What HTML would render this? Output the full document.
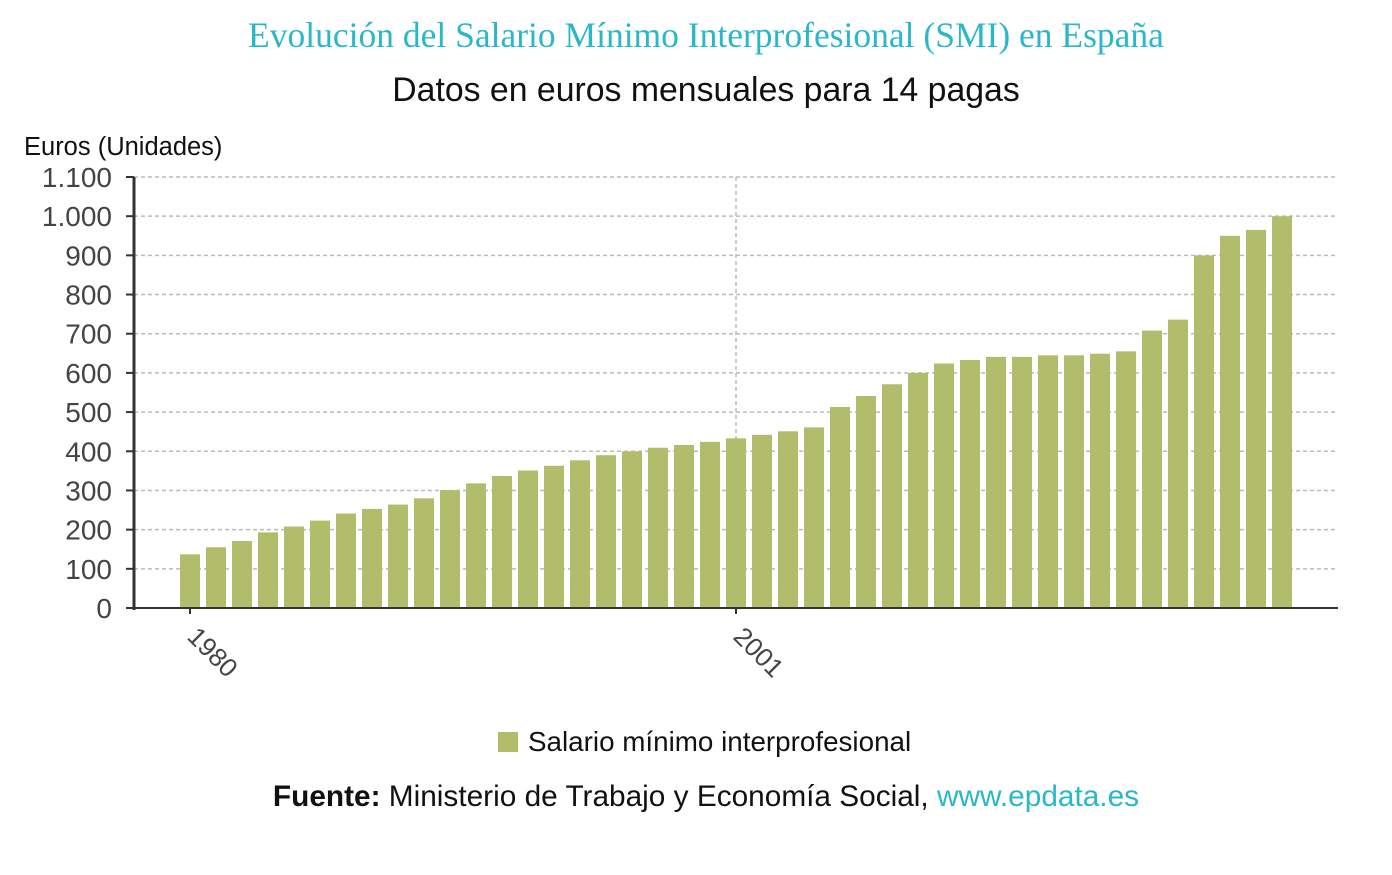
<!DOCTYPE html>
<html><head><meta charset="utf-8"><style>
body{margin:0;background:#fff;width:1392px;height:870px;overflow:hidden;font-family:"Liberation Sans",sans-serif}
</style></head><body>
<svg width="1392" height="870" id="svg">
<text x="706" y="47" text-anchor="middle" font-family="Liberation Serif" font-size="35.5" fill="#2ab8c9">Evolución del Salario Mínimo Interprofesional (SMI) en España</text>
<text x="706" y="101" text-anchor="middle" font-size="33.8" fill="#111">Datos en euros mensuales para 14 pagas</text>
<text x="24" y="155" font-size="25.5" fill="#111">Euros (Unidades)</text>
<g id="grid"></g><g id="bars"></g><g id="axes"></g>
<rect x="498" y="732" width="20" height="20" fill="#b1bd6b"/>
<text x="528" y="751" font-size="27.8" fill="#111">Salario mínimo interprofesional</text>
<text x="706" y="806" text-anchor="middle" font-size="29.8" fill="#111"><tspan font-weight="bold">Fuente:</tspan> Ministerio de Trabajo y Economía Social, <tspan fill="#2ab8c9">www.epdata.es</tspan></text>
</svg>
<script>
const years=[1980,1981,1982,1983,1984,1985,1986,1987,1988,1989,1990,1991,1992,1993,1994,1995,1996,1997,1998,1999,2000,2001,2002,2003,2004,2005,2006,2007,2008,2009,2010,2011,2012,2013,2014,2015,2016,2017,2018,2019,2020,2021,2022];
const values=[137,155,171,193,208,223,241,253,264,280,301,318,337,351,363,377,390,400,409,416,424,433,442,451,461,513,541,571,600,624,633,641,641,645,645,649,655,708,736,900,950,965,1000];
const yTicks=[0,100,200,300,400,500,600,700,800,900,1000,1100];
const yTickLabels=["0","100","200","300","400","500","600","700","800","900","1.000","1.100"];
const xLabelYears=[1980,2001];
const NS="http://www.w3.org/2000/svg";
const y0=608,yTop=177,x0=134,x1=1338;
const yS=v=>y0-(v/1100)*(y0-yTop);
const xS=yr=>190+(yr-1980)*26.0;
function mk(t,a,p){const e=document.createElementNS(NS,t);for(const k in a)e.setAttribute(k,a[k]);document.getElementById(p).appendChild(e);return e;}
yTicks.forEach((v,i)=>{
 if(v>0){const l=mk('line',{x1:x0,x2:x1,y1:yS(v),y2:yS(v),stroke:'#bbb','stroke-dasharray':'4,3','stroke-width':1.5},'grid');
 
 }
 const t=mk('text',{x:112,y:yS(v)+10,'text-anchor':'end','font-size':28,fill:'#444'},'axes');t.textContent=yTickLabels[i];
 
 
 mk('line',{x1:126,x2:134,y1:yS(v),y2:yS(v),stroke:'#333','stroke-width':2},'axes');
});
const vg=mk('line',{x1:xS(2001),x2:xS(2001),y1:yTop,y2:y0,stroke:'#bbb','stroke-dasharray':'4,3','stroke-width':1.5},'grid');


years.forEach((yr,i)=>{const r=mk('rect',{x:xS(yr)-10,y:yS(values[i]),width:20,height:y0-yS(values[i]),fill:'#b1bd6b'},'bars');
 
 });
const ya=mk('line',{x1:x0,x2:x0,y1:yTop,y2:y0+2,stroke:'#333','stroke-width':3},'axes');


const xa=mk('line',{x1:x0,x2:x1,y1:y0,y2:y0,stroke:'#333','stroke-width':2},'axes');


xLabelYears.forEach(yr=>{mk('line',{x1:xS(yr),x2:xS(yr),y1:y0,y2:y0+6,stroke:'#333','stroke-width':2},'axes');
 const t=mk('text',{x:xS(yr)-4,y:y0+30,'font-size':26,fill:'#444',transform:`rotate(45 ${xS(yr)-4} ${y0+30})`},'axes');t.textContent=yr;
 
 });
</script>
</body></html>
